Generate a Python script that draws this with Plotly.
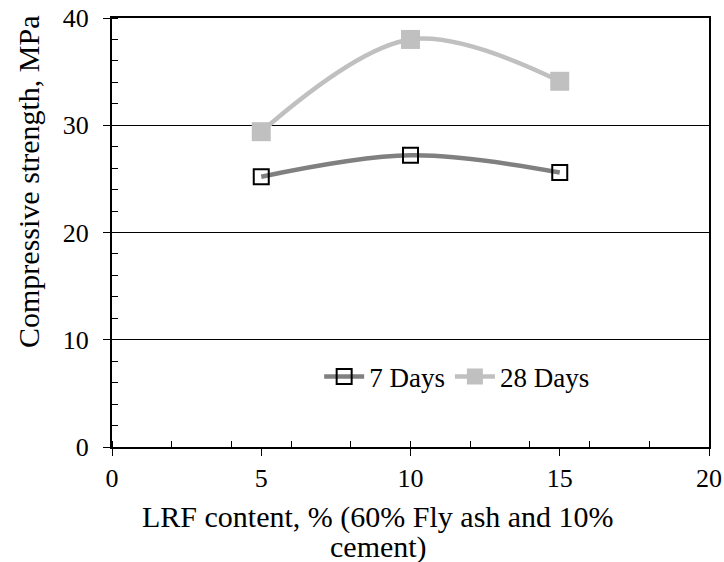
"""
LRF content vs compressive strength, 7 and 28 day curves
"""

import plotly.graph_objects as go

# data
lrf_content = [5, 10, 15]
strength_7d = [25.2, 27.2, 25.6]
strength_28d = [29.4, 38.0, 34.1]

x_title_1 = 'LRF content, % (60% Fly ash and 10%'
x_title_2 = 'cement)'
y_title = 'Compressive strength, MPa'

font_family = "Liberation Serif, Times New Roman, serif"

fig = go.Figure()

# 7 Days - dark grey line, open black squares
fig.add_trace(go.Scatter(
    x=lrf_content,
    y=strength_7d,
    mode='lines+markers',
    name='7 Days',
    line=dict(color='#808080', width=4.5, shape='spline', smoothing=1),
    marker=dict(symbol='square', size=15, color='rgba(255,255,255,0)',
                line=dict(color='black', width=2))
))

# 28 Days - light grey line, filled squares
fig.add_trace(go.Scatter(
    x=lrf_content,
    y=strength_28d,
    mode='lines+markers',
    name='28 Days',
    line=dict(color='#c0c0c0', width=4.5, shape='spline', smoothing=1),
    marker=dict(symbol='square', size=19, color='#c0c0c0',
                line=dict(width=0))
))

# axis titles as annotations (they are not centred on the plot area)
fig.add_annotation(text=x_title_1, xref='paper', yref='paper', x=0.4456, y=-0.1632,
                   showarrow=False, xanchor='center', yanchor='middle', font=dict(size=30))
fig.add_annotation(text=x_title_2, xref='paper', yref='paper', x=0.4456, y=-0.2331,
                   showarrow=False, xanchor='center', yanchor='middle', font=dict(size=30))
fig.add_annotation(text=y_title, xref='paper', yref='paper', x=-0.1407, y=0.6177,
                   showarrow=False, textangle=-90, xanchor='center', yanchor='middle',
                   font=dict(size=30))

fig.update_layout(
    width=724,
    height=562,
    paper_bgcolor='white',
    plot_bgcolor='white',
    font=dict(family=font_family, size=26, color='black'),
    margin=dict(l=112, r=15, t=18, b=115),
    showlegend=True,
    legend=dict(
        orientation='h',
        x=0.347, y=0.163,
        xanchor='left', yanchor='middle',
        bgcolor='rgba(0,0,0,0)',
        font=dict(size=27),
        itemwidth=40,
        traceorder='normal'
    ),
    xaxis=dict(
        range=[0, 20],
        tickvals=[0, 5, 10, 15, 20],
        ticks='outside', ticklen=7, tickwidth=1, tickcolor='black',
        minor=dict(dtick=2, tick0=0, ticks='inside', ticklen=6, tickcolor='black', showgrid=False),
        showline=True, linewidth=2, linecolor='black', mirror=True,
        showgrid=False, zeroline=False, automargin=False,
        ticklabeloverflow='allow',
        tickfont=dict(size=26)
    ),
    yaxis=dict(
        range=[0, 40],
        tickvals=[0, 10, 20, 30, 40],
        ticks='outside', ticklen=7, tickwidth=1, tickcolor='black',
        minor=dict(dtick=2, tick0=0, ticks='inside', ticklen=6, tickcolor='black', showgrid=False),
        showline=True, linewidth=2, linecolor='black', mirror=True,
        showgrid=True, gridcolor='black', gridwidth=1, zeroline=False, automargin=False,
        ticklabelstandoff=9, ticklabeloverflow='allow',
        tickfont=dict(size=26)
    )
)

# drop the default page margin so the 724x562 figure fills the window exactly
fig.write_html("out.html",
               config={'displayModeBar': False},
               post_script="document.body.style.margin='0';document.body.style.overflow='hidden';")
